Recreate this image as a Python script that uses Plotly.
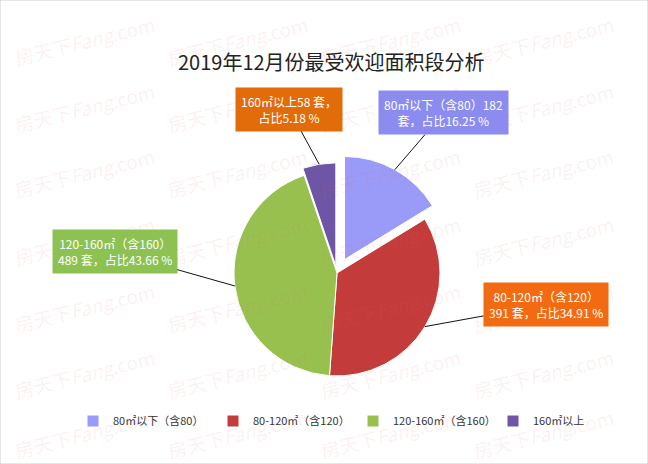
import math
import plotly.graph_objects as go

# ---- data ----
categories = ["80㎡以下（含80）", "80-120㎡（含120）", "120-160㎡（含160）", "160㎡以上"]
counts = [182, 391, 489, 58]
percents = [16.25, 34.91, 43.66, 5.18]
label_texts = [
    "80㎡以下（含80）182<br>套，占比16.25 %",
    "80-120㎡（含120）<br>391 套，占比34.91 %",
    "120-160㎡（含160）<br>489 套，占比43.66 %",
    "160㎡以上58 套，<br>占比5.18 %",
]
title_text = "2019年12月份最受欢迎面积段分析"

# ---- styles ----
slice_colors = ["#9A9AF8", "#C43B3B", "#98C04F", "#6E55A6"]
box_colors = ["#8C8CF0", "#F26B12", "#8DC252", "#E26B0A"]
pulls = [0.15, 0, 0, 0.07]
box_offsets = [(49, -57), (121, -22), (-120, -34), (-30, -55)]  # px offsets of label boxes

W, H = 648, 464
cx, cy, r = 337, 273, 103           # pie centre / radius in px
maxpull = max(pulls)
half = r * (1 + maxpull)

fig = go.Figure()
fig.add_trace(go.Pie(
    labels=categories, values=counts, sort=False, direction="clockwise", rotation=0,
    marker=dict(colors=slice_colors, line=dict(color="white", width=1)),
    pull=pulls, textinfo="none", hoverinfo="label+value+percent",
    domain=dict(x=[(cx - half) / W, (cx + half) / W],
                y=[(H - cy - half) / H, (H - cy + half) / H]),
))

annotations = []

# watermark (drawn first, underneath)
wm_cols = [84, 237, 390, 543]
wm_rows = [40, 107, 173, 240, 307, 373, 433]
for wx in wm_cols:
    for wy in wm_rows:
        annotations.append(dict(
            x=wx / W, y=1 - wy / H, xref="paper", yref="paper", showarrow=False,
            xanchor="center", yanchor="middle",
            text="房天下<i>Fang</i>.com", textangle=-14,
            font=dict(size=19, color="rgba(225,110,110,0.10)", family="Noto Sans CJK SC"),
        ))

# leader-line tips derived from the slice mid angles
total = sum(counts)
cum = 0
for i, v in enumerate(counts):
    mid = (cum + v / 2) / total * 2 * math.pi
    cum += v
    rr = r * (1 + pulls[i])
    tx = cx + rr * math.sin(mid)
    ty = cy - rr * math.cos(mid)
    ax, ay = box_offsets[i]
    annotations.append(dict(
        x=tx / W, y=1 - ty / H, xref="paper", yref="paper",
        text=label_texts[i], showarrow=True, arrowhead=0, arrowwidth=1, arrowcolor="#111",
        ax=ax, ay=ay, bgcolor=box_colors[i], borderpad=5, align="center",
        font=dict(color="white", size=12, family="Noto Sans CJK SC"),
    ))

annotations.append(dict(
    x=331 / W, y=1 - 45 / H, xref="paper", yref="paper", showarrow=False,
    text=title_text, font=dict(size=20, color="#222", family="Noto Sans CJK SC"),
))

fig.update_layout(
    width=W, height=H, margin=dict(l=0, r=0, t=0, b=0),
    paper_bgcolor="white", plot_bgcolor="white",
    annotations=annotations,
    showlegend=True,
    legend=dict(orientation="h", x=73 / W, xanchor="left", y=1 - 421 / H, yanchor="middle",
                font=dict(size=11, color="#333", family="Noto Sans CJK SC"),
                entrywidth=95, traceorder="normal", itemclick=False, itemwidth=30),
    shapes=[dict(type="rect", xref="paper", yref="paper", x0=0, y0=0, x1=1, y1=1,
                 line=dict(color="#cfcfcf", width=1))],
)

fig.write_html("out.html")
